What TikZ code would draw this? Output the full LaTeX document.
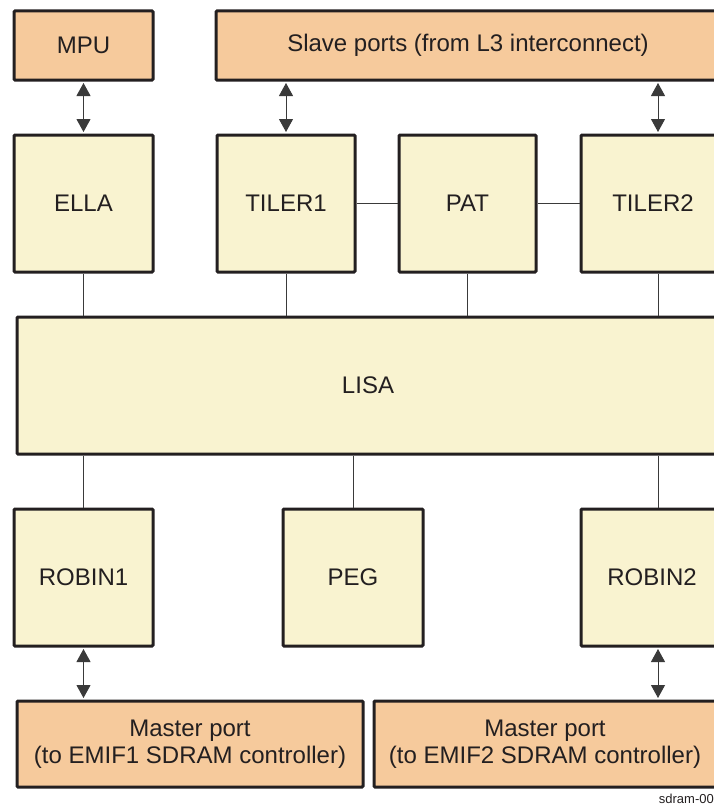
\documentclass[tikz,border=0pt]{standalone}
\usepackage{fontspec}
\setmainfont{Liberation Sans}
\usetikzlibrary{arrows.meta}
\definecolor{bordercol}{HTML}{231F20}
\definecolor{yelcol}{HTML}{F9F3D0}
\definecolor{orgcol}{HTML}{F6CA9C}
\definecolor{linecol}{HTML}{3A3A3A}
\tikzset{
  box/.style={draw=bordercol, line width=3pt, rounded corners=1pt, inner sep=0pt,
    font=\fontsize{24}{27}\selectfont, text=bordercol, align=center},
  yel/.style={box, fill=yelcol},
  org/.style={box, fill=orgcol},
  thin/.style={draw=linecol, line width=1pt},
  dbl/.style={thin, {Triangle[length=13pt,width=14pt]}-{Triangle[length=13pt,width=14pt]}, shorten >=1.5pt, shorten <=1.5pt}
}
\begin{document}
\begin{tikzpicture}[x=1pt,y=-1pt]
\useasboundingbox (0,0) rectangle (714,808);
\clip (0,0) rectangle (714,808);
% top row
\node[org, minimum width=139pt, minimum height=69pt] (mpu) at (83.5,45.5) {MPU};
\node[org, minimum width=504pt, minimum height=69pt] (slave) at (468,45.5) {Slave ports (from L3 interconnect)};
% second row
\node[yel, minimum width=139pt, minimum height=137pt] (ella) at (83.5,203.5) {ELLA};
\node[yel, minimum width=138pt, minimum height=137pt] (tiler1) at (286,203.5) {TILER1};
\node[yel, minimum width=137pt, minimum height=137pt] (pat) at (467.5,203.5) {PAT};
\node[yel, minimum width=144pt, minimum height=137pt] (tiler2) at (653,203.5) {TILER2};
% LISA
\node[yel, minimum width=702pt, minimum height=137pt] (lisa) at (368,385.5) {LISA};
% third row
\node[yel, minimum width=139pt, minimum height=137pt] (robin1) at (83.5,577.5) {ROBIN1};
\node[yel, minimum width=140pt, minimum height=137pt] (peg) at (353,577.5) {PEG};
\node[yel, minimum width=142pt, minimum height=137pt] (robin2) at (652,577.5) {ROBIN2};
% master ports
\node[org, minimum width=346pt, minimum height=86pt] (master1) at (190,744) {Master port\\(to EMIF1 SDRAM controller)};
\node[org, minimum width=342pt, minimum height=86pt] (master2) at (545,744) {Master port\\(to EMIF2 SDRAM controller)};
% connectors
\draw[dbl] (mpu.south) -- (ella.north);
\draw[dbl] (tiler1.north |- slave.south) -- (tiler1.north);
\draw[dbl] ([xshift=5pt]tiler2.north |- slave.south) -- ([xshift=5pt]tiler2.north);
\draw[thin] (tiler1.east) -- (pat.west);
\draw[thin] (pat.east) -- (tiler2.west);
\draw[thin] (ella.south) -- (ella.south |- lisa.north);
\draw[thin] (tiler1.south) -- (tiler1.south |- lisa.north);
\draw[thin] (pat.south) -- (pat.south |- lisa.north);
\draw[thin] ([xshift=5pt]tiler2.south) -- ([xshift=5pt]tiler2.south |- lisa.north);
\draw[thin] (robin1.north |- lisa.south) -- (robin1.north);
\draw[thin] (peg.north |- lisa.south) -- (peg.north);
\draw[thin] ([xshift=6pt]robin2.north |- lisa.south) -- ([xshift=6pt]robin2.north);
\draw[dbl] (robin1.south) -- (robin1.south |- master1.north);
\draw[dbl] ([xshift=6pt]robin2.south) -- ([xshift=6pt]robin2.south |- master2.north);
% figure label
\node[anchor=base east, inner sep=0pt, font=\fontsize{13}{15}\selectfont, text=bordercol] (label) at (714,803) {sdram-00};
\end{tikzpicture}
\end{document}
